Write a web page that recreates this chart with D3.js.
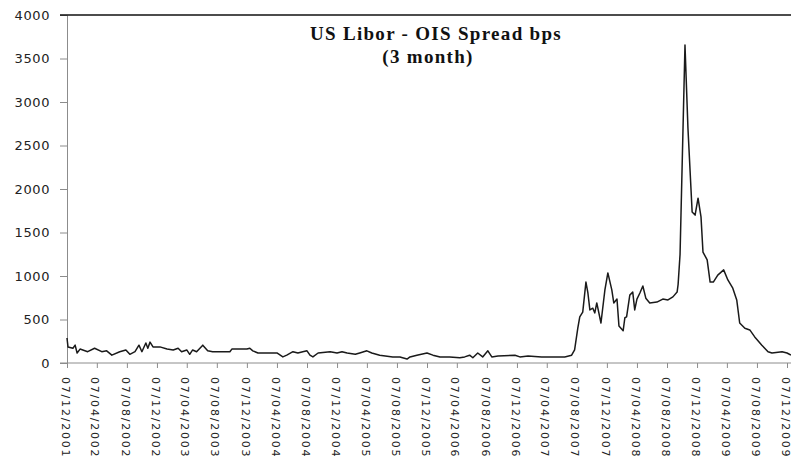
<!DOCTYPE html>
<html>
<head>
<meta charset="utf-8">
<script src="https://cdn.jsdelivr.net/npm/d3@7"></script>
<style>
  body { margin: 0; background: #fff; }
  svg { display: block; }
</style>
</head>
<body>
<div id="chart"></div>
<script>
// dates (yyyy-mm-dd) and spread values
var dates = [
  "2001-12-07", "2001-12-11", "2001-12-31", "2002-01-09", "2002-01-17", "2002-01-29",
  "2002-03-01", "2002-03-29", "2002-04-27", "2002-05-17", "2002-06-07", "2002-07-09",
  "2002-08-03", "2002-08-19", "2002-09-09", "2002-09-25", "2002-10-07", "2002-10-23",
  "2002-10-31", "2002-11-09", "2002-11-21", "2002-12-19", "2003-01-17", "2003-02-11",
  "2003-03-03", "2003-03-17", "2003-04-07", "2003-04-19", "2003-05-01", "2003-05-17",
  "2003-06-11", "2003-07-01", "2003-07-21", "2003-09-29", "2003-10-07", "2003-12-07",
  "2003-12-19", "2003-12-31", "2004-01-21", "2004-04-07", "2004-05-01", "2004-05-17",
  "2004-06-11", "2004-07-01", "2004-07-21", "2004-08-07", "2004-08-19", "2004-08-31",
  "2004-09-21", "2004-11-09", "2004-12-07", "2004-12-27", "2005-01-17", "2005-02-19",
  "2005-03-09", "2005-04-07", "2005-04-27", "2005-05-29", "2005-07-21", "2005-08-19",
  "2005-09-17", "2005-09-29", "2005-10-27", "2005-12-07", "2005-12-31", "2006-01-29",
  "2006-03-09", "2006-04-19", "2006-05-09", "2006-05-29", "2006-06-11", "2006-07-01",
  "2006-07-21", "2006-08-11", "2006-08-27", "2006-09-21", "2006-11-29", "2006-12-19",
  "2007-01-21", "2007-03-17", "2007-06-19", "2007-07-17", "2007-07-29", "2007-08-11",
  "2007-08-19", "2007-08-31", "2007-09-13", "2007-09-21", "2007-09-29", "2007-10-11",
  "2007-10-19", "2007-10-27", "2007-11-13", "2007-11-29", "2007-12-11", "2007-12-27",
  "2008-01-04", "2008-01-17", "2008-01-25", "2008-02-11", "2008-02-18", "2008-02-25",
  "2008-03-09", "2008-03-21", "2008-03-29", "2008-04-07", "2008-04-19", "2008-05-01",
  "2008-05-13", "2008-05-29", "2008-06-27", "2008-07-21", "2008-08-11", "2008-08-31",
  "2008-09-17", "2008-09-21", "2008-09-29", "2008-10-19", "2008-10-31", "2008-11-17",
  "2008-11-29", "2008-12-11", "2008-12-23", "2008-12-31", "2009-01-17", "2009-01-29",
  "2009-02-11", "2009-03-01", "2009-03-25", "2009-04-11", "2009-05-01", "2009-05-17",
  "2009-05-29", "2009-06-19", "2009-07-09", "2009-07-29", "2009-08-27", "2009-09-21",
  "2009-10-07", "2009-11-17", "2009-12-07", "2009-12-23"
];
var spread = [
  287, 185, 170, 205, 115, 160,
  130, 170, 130, 140, 90, 130,
  150, 100, 130, 205, 130, 230,
  170, 240, 185, 185, 160, 150,
  170, 130, 150, 100, 150, 130,
  205, 140, 130, 130, 160, 160,
  170, 140, 115, 115, 70, 90,
  130, 115, 130, 140, 90, 70,
  115, 130, 115, 130, 115, 100,
  115, 140, 115, 90, 70, 70,
  45, 70, 90, 115, 90, 70,
  70, 60, 70, 90, 60, 115,
  70, 140, 70, 80, 90, 70,
  80, 70, 70, 90, 150, 400,
  530, 585, 930, 805, 610, 630,
  575, 690, 460, 840, 1035, 840,
  690, 735, 425, 370, 520, 530,
  780, 815, 610, 735, 805, 885,
  745, 690, 700, 735, 725, 760,
  815, 900, 1250, 3655, 2700, 1735,
  1700, 1895, 1680, 1275, 1185, 930,
  930, 1010, 1070, 955, 860, 725,
  460, 400, 380, 300, 205, 130,
  115, 130, 115, 90
];
var tickLabels = [
  "07/12/2001", "07/04/2002", "07/08/2002", "07/12/2002", "07/04/2003", "07/08/2003",
  "07/12/2003", "07/04/2004", "07/08/2004", "07/12/2004", "07/04/2005", "07/08/2005",
  "07/12/2005", "07/04/2006", "07/08/2006", "07/12/2006", "07/04/2007", "07/08/2007",
  "07/12/2007", "07/04/2008", "07/08/2008", "07/12/2008", "07/04/2009", "07/08/2009",
  "07/12/2009"
];
var yTicks = [0, 500, 1000, 1500, 2000, 2500, 3000, 3500, 4000];

var width = 791, height = 462;
var plotLeft = 67, plotTop = 15, plotBottom = 363, plotRight = 787;

var parseIso = d3.timeParse("%Y-%m-%d");
var parseLabel = d3.timeParse("%d/%m/%Y");
var data = dates.map(function (d, i) { return { date: parseIso(d), val: spread[i] }; });

var svg = d3.select("#chart").append("svg")
    .attr("width", width)
    .attr("height", height);

var xScale = d3.scaleTime()
    .domain([parseLabel(tickLabels[0]), parseLabel(tickLabels[tickLabels.length - 1])])
    .range([plotLeft, plotRight]);
var yScale = d3.scaleLinear()
    .domain([0, 4000])
    .range([plotBottom, plotTop]);

// y axis
var yAxis = svg.append("g")
    .attr("transform", "translate(" + plotLeft + ",0)")
    .call(d3.axisLeft(yScale).tickValues(yTicks).tickSize(7).tickPadding(10).tickFormat(d3.format("d")));
yAxis.selectAll("path, line").attr("stroke", "#8c8c8c");
yAxis.selectAll("text")
    .attr("font-family", "DejaVu Sans, Verdana, sans-serif")
    .attr("font-size", 13)
    .attr("letter-spacing", "0.6px")
    .attr("fill", "#222");

// x axis
var xAxis = svg.append("g")
    .attr("transform", "translate(0," + plotBottom + ")")
    .call(d3.axisBottom(xScale)
        .tickValues(tickLabels.map(parseLabel))
        .tickSize(5)
        .tickFormat(d3.timeFormat("%d/%m/%Y")));
xAxis.select(".domain").attr("d", "M" + (plotLeft - 7) + ",0H" + width);
xAxis.selectAll("path, line").attr("stroke", "#8c8c8c");
xAxis.selectAll("text")
    .attr("font-family", "DejaVu Sans, Verdana, sans-serif")
    .attr("font-size", 11)
    .attr("letter-spacing", "1.8px")
    .attr("fill", "#222")
    .attr("text-anchor", "start")
    .attr("transform", "translate(-2,14) rotate(90)")
    .attr("x", 0)
    .attr("y", 0)
    .attr("dy", "0.35em");

// top border of the plot area
svg.append("line")
    .attr("x1", plotLeft - 7).attr("x2", width)
    .attr("y1", yScale(4000)).attr("y2", yScale(4000))
    .attr("stroke", "#111")
    .attr("stroke-width", 1.5);

// the series
var line = d3.line()
    .x(function (d) { return xScale(d.date); })
    .y(function (d) { return yScale(d.val); });
svg.append("path")
    .datum(data)
    .attr("fill", "none")
    .attr("stroke", "#1a1a1a")
    .attr("stroke-width", 1.5)
    .attr("stroke-linejoin", "round")
    .attr("d", line);

// title
var title = svg.append("text")
    .attr("text-anchor", "middle")
    .attr("font-family", "Liberation Serif, Times New Roman, serif")
    .attr("font-weight", "bold")
    .attr("font-size", 19)
    .attr("fill", "#111");
title.append("tspan").attr("x", 436).attr("y", 40).attr("letter-spacing", "1.3px").text("US Libor - OIS Spread bps");
title.append("tspan").attr("x", 428).attr("y", 63).attr("letter-spacing", "1.3px").text("(3 month)");
</script>
</body>
</html>
